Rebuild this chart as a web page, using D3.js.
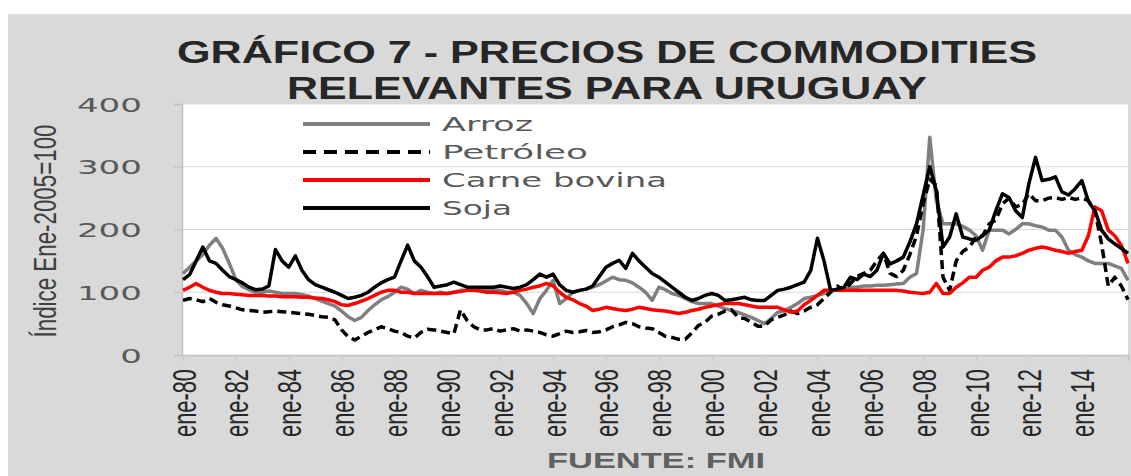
<!DOCTYPE html>
<html>
<head>
<meta charset="utf-8">
<script src="https://cdn.jsdelivr.net/npm/d3@7"></script>
<style>
  html, body { margin: 0; padding: 0; background: #ffffff; }
  svg { display: block; }
</style>
</head>
<body>
<svg id="chart" width="1131" height="476"></svg>
<script>
// Quarterly observations, Jan-1980 .. Oct-2015 (index Jan-2005 = 100)
const startDate = new Date(1980, 0, 1);
const endDate = new Date(2015, 9, 1);
const dates = d3.timeMonth.range(startDate, new Date(2015, 10, 1), 3);

const arroz = [
  130, 140, 150, 160,  175, 186, 170, 146,  120, 109, 104, 100,  100, 102, 100, 98,
  98, 98, 96, 94,      90, 86, 82, 78,      70, 61, 55, 60,      71, 80, 88, 93,
  100, 108, 105, 98,   103, 100, 98, 100,   98, 100, 103, 103,   103, 103, 103, 103,
  103, 100, 100, 95,   82, 66, 90, 103,     119, 82, 90, 100,    103, 105, 108, 112,
  118, 124, 120, 119,  115, 108, 100, 87,   108, 104, 98, 95,    90, 85, 82, 82,
  82, 78, 74, 71,      68, 64, 60, 55,      50, 58, 68, 71,      76, 82, 90, 92,
  95, 98, 103, 103,    105, 108, 108, 110,  110, 111, 111, 112,  113, 114, 124, 130,
  200, 347, 245, 209,  209, 209, 205, 199,  190, 167, 199, 199,  199, 193, 200, 209,
  209, 206, 204, 199,  199, 188, 167, 160,  156, 150, 146, 146,  146, 142, 138, 119
];

const petroleo = [
  87, 90, 88, 85,      90, 84, 80, 78,      75, 72, 71, 70,      68, 69, 70, 69,
  68, 67, 66, 65,      63, 61, 60, 56,      40, 29, 24, 30,      36, 40, 45, 42,
  38, 36, 30, 27,      36, 41, 40, 38,      36, 34, 72, 55,      45, 40, 40, 42,
  38, 40, 42, 38,      40, 38, 36, 32,      30, 34, 38, 36,      37, 39, 36, 37,
  40, 45, 48, 52,      50, 45, 43, 42,      36, 30, 28, 25,      25, 35, 47, 52,
  62, 65, 70, 72,      60, 58, 52, 46,      46, 56, 60, 64,      70, 66, 70, 76,
  80, 90, 100, 110,    103, 114, 125, 130,  135, 150, 162, 130,  125, 135, 160, 190,
  241, 280, 270, 124,  103, 150, 165, 172,  188, 190, 209, 215,  241, 250, 236, 240,
  257, 246, 246, 250,  251, 248, 251, 248,  250, 246, 230, 177,  110, 124, 110, 88
];

const carne = [
  103, 108, 114, 108,  103, 100, 98, 98,    97, 96, 95, 95,      95, 94, 94, 93,
  93, 93, 92, 92,      91, 90, 88, 85,      80, 79, 82, 86,      90, 95, 100, 103,
  103, 100, 100, 98,   98, 98, 98, 98,      98, 100, 101, 103,   103, 102, 100, 100,
  99, 98, 100, 103,    105, 108, 110, 114,  110, 100, 92, 88,    82, 78, 71, 73,
  76, 74, 72, 71,      73, 76, 74, 72,      71, 70, 68, 66,      68, 71, 73, 76,
  78, 80, 82, 82,      82, 80, 78, 76,      76, 76, 76, 72,      68, 70, 80, 87,
  95, 103, 103, 103,   103, 103, 103, 103,  103, 103, 103, 103,  103, 102, 100, 99,
  98, 100, 114, 98,    98, 108, 115, 124,   124, 135, 140, 150,  156, 156, 158, 162,
  167, 170, 172, 170,  167, 165, 162, 165,  167, 190, 236, 230,  199, 190, 175, 146
];

const soja = [
  120, 128, 150, 172,  150, 146, 135, 125,  120, 115, 108, 104,  105, 110, 168, 150,
  140, 158, 135, 120,  112, 108, 104, 100,  95, 90, 92, 95,      100, 108, 115, 120,
  124, 150, 175, 150,  140, 125, 108, 110,  112, 116, 112, 108,  108, 108, 108, 108,
  110, 108, 106, 108,  112, 120, 129, 124,  129, 112, 103, 100,  103, 105, 110, 125,
  140, 146, 151, 138,  162, 150, 140, 130,  124, 116, 108, 100,  92, 87, 90, 95,
  98, 95, 87, 88,      90, 92, 88, 87,      87, 95, 103, 105,    108, 112, 116, 135,
  186, 150, 103, 105,  108, 124, 120, 129,  125, 135, 162, 145,  150, 156, 180, 209,
  255, 300, 262, 172,  188, 225, 188, 185,  183, 190, 199, 230,  257, 251, 230, 219,
  273, 315, 278, 280,  284, 260, 255, 265,  278, 245, 230, 199,  185, 177, 170, 162
];

const seriesNames = ["Arroz", "Petróleo", "Carne bovina", "Soja"];
const seriesValues = [arroz, petroleo, carne, soja];
const seriesColors = ["#7f7f7f", "#000000", "#ff0000", "#000000"];
const seriesDash = [null, "9,5", null, null];

const yTicks = [0, 100, 200, 300, 400];
const xTickYears = d3.range(1980, 2015, 2);
const titleLines = ["GRÁFICO 7 - PRECIOS DE COMMODITIES", "RELEVANTES PARA URUGUAY"];
const yTitle = "Índice Ene-2005=100";
const sourceNote = "FUENTE: FMI";

const svg = d3.select("#chart");

// gray chart panel
svg.append("rect")
  .attr("x", 8).attr("y", 14)
  .attr("width", 1123).attr("height", 462)
  .attr("fill", "#d9d9d9");

const plot = { left: 183, right: 1128, top: 104, bottom: 355 };

const x = d3.scaleTime().domain([startDate, endDate]).range([plot.left, plot.right]);
const y = d3.scaleLinear().domain([0, 400]).range([plot.bottom, plot.top]);

// plot background
svg.append("rect")
  .attr("x", plot.left).attr("y", plot.top)
  .attr("width", plot.right - plot.left).attr("height", plot.bottom - plot.top)
  .attr("fill", "#ffffff");

// horizontal gridlines
svg.append("g")
  .selectAll("line")
  .data(yTicks.filter(d => d > 0))
  .join("line")
  .attr("x1", plot.left).attr("x2", plot.right)
  .attr("y1", d => y(d)).attr("y2", d => y(d))
  .attr("stroke", "#d9d9d9").attr("stroke-width", 1.2);

// y axis
const yAxis = svg.append("g")
  .attr("transform", `translate(${plot.left - 1},0)`)
  .call(d3.axisLeft(y).tickValues(yTicks).tickSize(8).tickFormat(d3.format("d")));
yAxis.select(".domain").attr("stroke", "#bfbfbf").attr("stroke-width", 1.5);
yAxis.selectAll(".tick line").attr("stroke", "#bfbfbf");
yAxis.selectAll(".tick text")
  .attr("x", -40)
  .attr("dy", "0.36em")
  .attr("fill", "#595959")
  .style("font-family", "'DejaVu Sans', Verdana, sans-serif")
  .style("font-size", "20px")
  .attr("textLength", d => String(d).length * 21.7)
  .attr("lengthAdjust", "spacingAndGlyphs");

// x axis
const xAxis = svg.append("g")
  .attr("transform", `translate(0,${plot.bottom})`)
  .call(d3.axisBottom(x)
    .tickValues(xTickYears.map(yr => new Date(yr, 0, 1)))
    .tickSize(6)
    .tickFormat(d => "ene-" + d3.timeFormat("%y")(d)));
xAxis.select(".domain").attr("stroke", "#bfbfbf").attr("stroke-width", 1.5);
xAxis.selectAll(".tick line").attr("stroke", "#c8c8c8");
xAxis.selectAll(".tick text")
  .attr("transform", "translate(12,14) rotate(-90)")
  .attr("x", 0).attr("y", 0).attr("dy", 0)
  .attr("text-anchor", "end")
  .attr("fill", "#262626")
  .style("font-family", "'Liberation Sans Narrow', 'Liberation Sans', Arial, sans-serif")
  .style("font-size", "34px")
  .attr("textLength", 68)
  .attr("lengthAdjust", "spacingAndGlyphs");

// series lines
const line = d3.line()
  .x((d, i) => x(dates[i]))
  .y(d => y(d));

svg.append("g")
  .selectAll("path")
  .data(seriesValues)
  .join("path")
  .attr("d", d => line(d))
  .attr("fill", "none")
  .attr("stroke", (d, i) => seriesColors[i])
  .attr("stroke-width", 3.5)
  .attr("stroke-dasharray", (d, i) => seriesDash[i])
  .attr("stroke-linejoin", "round");

// legend
const legendRowY = [124, 152, 180, 208];
const legendTextLen = [91, 146, 225, 70];
const legend = svg.append("g");
seriesNames.forEach((name, i) => {
  legend.append("line")
    .attr("x1", 303).attr("x2", 430)
    .attr("y1", legendRowY[i]).attr("y2", legendRowY[i])
    .attr("stroke", seriesColors[i])
    .attr("stroke-width", 4)
    .attr("stroke-dasharray", seriesDash[i] ? "13,8" : null);
  legend.append("text")
    .attr("x", 442).attr("y", legendRowY[i] + 7)
    .attr("fill", "#595959")
    .style("font-family", "'DejaVu Sans', Verdana, sans-serif")
    .style("font-size", "20px")
    .attr("textLength", legendTextLen[i])
    .attr("lengthAdjust", "spacingAndGlyphs")
    .text(name);
});

// title
const titleLen = [860, 640];
const titleBase = [63, 99];
titleLines.forEach((t, i) => {
  svg.append("text")
    .attr("x", 607).attr("y", titleBase[i])
    .attr("text-anchor", "middle")
    .attr("fill", "#262626")
    .style("font-family", "'Liberation Sans', Arial, sans-serif")
    .style("font-weight", "bold")
    .style("font-size", "32px")
    .attr("textLength", titleLen[i])
    .attr("lengthAdjust", "spacingAndGlyphs")
    .text(t);
});

// y axis title
svg.append("text")
  .attr("transform", "translate(56,231) rotate(-90)")
  .attr("text-anchor", "middle")
  .attr("fill", "#404040")
  .style("font-family", "'Liberation Sans Narrow', 'Liberation Sans', Arial, sans-serif")
  .style("font-size", "31px")
  .attr("textLength", 213)
  .attr("lengthAdjust", "spacingAndGlyphs")
  .text(yTitle);

// source note
svg.append("text")
  .attr("x", 656).attr("y", 468)
  .attr("text-anchor", "middle")
  .attr("fill", "#606060")
  .style("font-family", "'Liberation Sans', Arial, sans-serif")
  .style("font-weight", "bold")
  .style("font-size", "22px")
  .attr("textLength", 218)
  .attr("lengthAdjust", "spacingAndGlyphs")
  .text(sourceNote);
</script>
</body>
</html>
